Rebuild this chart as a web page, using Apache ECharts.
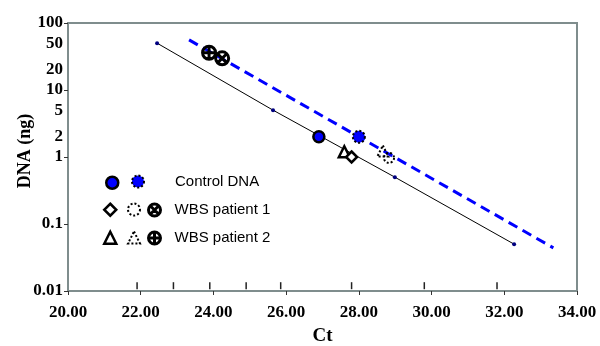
<!DOCTYPE html>
<html>
<head>
<meta charset="utf-8">
<script src="https://cdn.jsdelivr.net/npm/echarts@6/dist/echarts.min.js"></script>
<style>
  html, body { margin: 0; padding: 0; background: #fff; }
  #chart { width: 600px; height: 346px; }
</style>
</head>
<body>
<div id="chart"></div>
<script>
// Standard curve: Ct against amount of template DNA (solid line)
const stdCurveCt = [22.45, 25.64, 28.99, 32.27];
const stdCurveDna = [50, 5, 0.5, 0.05];

// Second curve (dashed blue line)
const fitCurveCt = [23.33, 33.35];
const fitCurveDna = [56, 0.044];

// Samples: [solid marker, dotted marker, crossed marker]
const controlCt = [26.9, 28.0];
const controlDna = [2.0, 2.0];
const wbs1Ct = [27.8, 28.83, 24.24];
const wbs1Dna = [1.0, 0.97, 29.7];
const wbs2Ct = [27.6, 28.66, 23.88];
const wbs2Dna = [1.2, 1.23, 36];

// Short guide marks just above the Ct axis
const ctGuideMarks = [21.9, 22.9, 23.9, 24.9, 25.85, 27.8, 29.8, 31.8];
const guideMarkDna = 0.012;

// Axis ticks and labels
const ctMin = 20, ctMax = 34, ctStep = 2;
const yLabelValues = [0.01, 0.1, 1, 2, 5, 10, 20, 50, 100];
const yTickValues = [0.01, 0.1, 1, 10, 100];

const legendNames = {
  control: 'Control DNA',
  wbs1: 'WBS patient 1',
  wbs2: 'WBS patient 2'
};

const CROSS_PLUS = 'path://M0,10A10,10,0,1,1,20,10A10,10,0,1,1,0,10ZM10,0L10,20M0,10L20,10';
const CROSS_X = 'path://M0,10A10,10,0,1,1,20,10A10,10,0,1,1,0,10ZM2.93,2.93L17.07,17.07M17.07,2.93L2.93,17.07';

const pt = (xs, ys, i) => [[xs[i], ys[i]]];
const pairs = (xs, ys) => xs.map((x, i) => [x, ys[i]]);

const DOTS = [2, 2];
const styles = {
  ctrlSolid: { color: '#0000ff', borderColor: '#000', borderWidth: 2.5, opacity: 1 },
  ctrlDotted: { color: '#0000ff', borderColor: '#000', borderWidth: 2, borderType: DOTS, opacity: 1 },
  solid: { color: '#ffffff', borderColor: '#000', borderWidth: 2.5, opacity: 1 },
  dotted: { color: '#ffffff', borderColor: '#000', borderWidth: 2, borderType: DOTS, opacity: 1 },
  crossed: { color: 'rgba(0,0,0,0)', borderColor: '#000', borderWidth: 3, opacity: 1 }
};

const S = {
  ctrlA: 'ctrl-solid', ctrlB: 'ctrl-dotted',
  w1A: 'wbs1-solid', w1B: 'wbs1-dotted', w1C: 'wbs1-crossed',
  w2A: 'wbs2-solid', w2B: 'wbs2-dotted', w2C: 'wbs2-crossed'
};

const textFor = {};
textFor[S.ctrlB] = legendNames.control;
textFor[S.w1C] = legendNames.wbs1;
textFor[S.w2C] = legendNames.wbs2;

function legendAt(name, style, cx, cy, padLeft, shiftUp) {
  const hasText = !!textFor[name];
  return {
    data: [{ name: name, itemStyle: style }],
    left: cx - 6,
    top: cy - 6 - (hasText ? shiftUp : 0),
    padding: 0,
    itemWidth: 12,
    itemHeight: 12,
    selectedMode: false,
    formatter: n => textFor[n] || '',
    textStyle: {
      fontFamily: 'Liberation Sans',
      fontSize: 15,
      color: '#000',
      lineHeight: 12,
      padding: hasText ? [0, 0, shiftUp * 2, padLeft] : 0
    }
  };
}

const option = {
  backgroundColor: '#ffffff',
  animation: false,
  grid: {
    left: 68, right: 23, top: 23, bottom: 55,
    containLabel: false,
    outerBoundsMode: 'none',
    show: true, borderColor: '#7f8d8d', borderWidth: 2
  },
  legend: [
    legendAt(S.ctrlA, styles.ctrlSolid, 111, 181.5, 0, 0),
    legendAt(S.ctrlB, styles.ctrlDotted, 137, 181.5, 26, 3),
    legendAt(S.w1A, styles.solid, 109, 208.5, 0, 0),
    legendAt(S.w1B, styles.dotted, 133, 208.5, 0, 0),
    legendAt(S.w1C, styles.crossed, 153, 208.5, 9, 0),
    legendAt(S.w2A, styles.solid, 109, 236.5, 0, 0),
    legendAt(S.w2B, styles.dotted, 133, 236.5, 0, 0),
    legendAt(S.w2C, styles.crossed, 153, 236.5, 9, 0)
  ],
  xAxis: {
    type: 'value',
    min: ctMin, max: ctMax, interval: ctStep,
    name: 'Ct',
    nameLocation: 'middle',
    nameGap: 36,
    nameMoveOverlap: false,
    nameTextStyle: { fontFamily: 'Liberation Serif', fontWeight: 'bold', fontSize: 19, color: '#000' },
    axisLine: { lineStyle: { color: '#7f8d8d', width: 2 } },
    axisTick: { show: true, length: 4, lineStyle: { color: '#333', width: 1 } },
    axisLabel: {
      margin: 13,
      fontFamily: 'Liberation Serif', fontWeight: 'bold', fontSize: 17, color: '#000',
      formatter: v => v.toFixed(2)
    },
    splitLine: { show: false }
  },
  yAxis: {
    type: 'log',
    logBase: 10,
    min: 0.01, max: 100,
    name: 'DNA (ng)',
    nameLocation: 'middle',
    nameGap: 34,
    nameMoveOverlap: false,
    nameTextStyle: {
      fontFamily: 'Liberation Serif', fontWeight: 'bold', fontSize: 18, color: '#000',
      padding: [0, 0, 0, 12]
    },
    axisLine: { show: true, lineStyle: { color: '#7f8d8d', width: 2 } },
    axisTick: { show: true, length: 4, customValues: yTickValues, lineStyle: { color: '#333', width: 1 } },
    axisLabel: {
      margin: 5,
      customValues: yLabelValues,
      fontFamily: 'Liberation Serif', fontWeight: 'bold', fontSize: 17, color: '#000',
      formatter: v => String(parseFloat(Number(v).toPrecision(3)))
    },
    minorTick: { show: false },
    splitLine: { show: false }
  },
  series: [
    {
      type: 'scatter', name: 'guide', silent: true, z: 1,
      symbol: 'rect', symbolSize: [1.5, 7],
      itemStyle: { color: '#222', opacity: 1 },
      data: ctGuideMarks.map(c => [c, guideMarkDna])
    },
    {
      type: 'line', name: 'standard', z: 2, silent: true,
      data: pairs(stdCurveCt, stdCurveDna),
      symbol: 'circle', symbolSize: 4, showSymbol: true,
      itemStyle: { color: '#000080' },
      lineStyle: { color: '#000', width: 1 }
    },
    {
      type: 'line', name: 'fit', z: 2, silent: true,
      data: pairs(fitCurveCt, fitCurveDna),
      symbol: 'none',
      lineStyle: { color: '#0000ff', width: 3, type: [10, 6] }
    },
    { type: 'scatter', name: S.w2C, z: 3, symbol: CROSS_PLUS, symbolSize: 13, itemStyle: styles.crossed, data: pt(wbs2Ct, wbs2Dna, 2) },
    { type: 'scatter', name: S.w1C, z: 3, symbol: CROSS_X, symbolSize: 13, itemStyle: styles.crossed, data: pt(wbs1Ct, wbs1Dna, 2) },
    { type: 'scatter', name: S.ctrlA, z: 3, symbol: 'circle', symbolSize: 11, itemStyle: styles.ctrlSolid, data: pt(controlCt, controlDna, 0) },
    { type: 'scatter', name: S.ctrlB, z: 3, symbol: 'circle', symbolSize: 12, itemStyle: styles.ctrlDotted, data: pt(controlCt, controlDna, 1) },
    { type: 'scatter', name: S.w2A, z: 3, symbol: 'triangle', symbolSize: 11, itemStyle: styles.solid, data: pt(wbs2Ct, wbs2Dna, 0) },
    { type: 'scatter', name: S.w1A, z: 3, symbol: 'diamond', symbolSize: 11, itemStyle: styles.solid, data: pt(wbs1Ct, wbs1Dna, 0) },
    { type: 'scatter', name: S.w2B, z: 3, symbol: 'triangle', symbolSize: 11, itemStyle: Object.assign({}, styles.dotted, { color: 'rgba(0,0,0,0)' }), data: pt(wbs2Ct, wbs2Dna, 1) },
    { type: 'scatter', name: S.w1B, z: 3, symbol: 'circle', symbolSize: 10, itemStyle: Object.assign({}, styles.dotted, { color: 'rgba(0,0,0,0)' }), data: pt(wbs1Ct, wbs1Dna, 1) }
  ]
};

const chart = echarts.init(document.getElementById('chart'), null, { renderer: 'canvas' });
chart.setOption(option);
</script>
</body>
</html>
